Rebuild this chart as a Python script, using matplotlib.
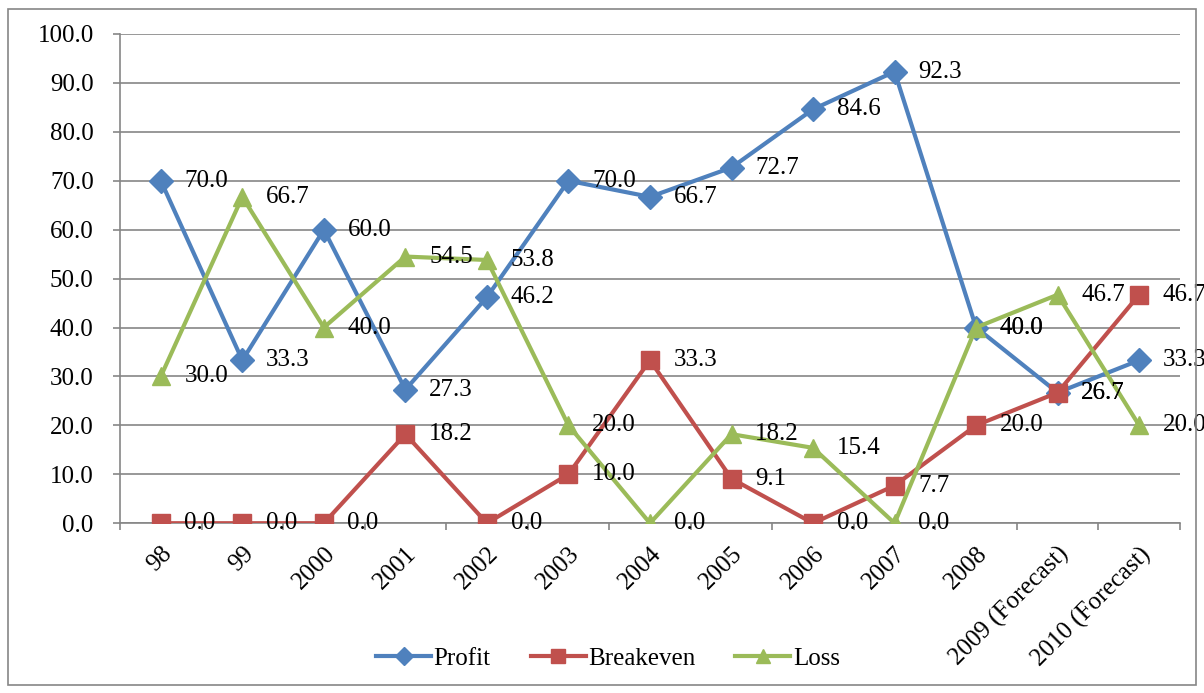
import matplotlib.pyplot as plt
from matplotlib.patches import Rectangle
import numpy as np

plt.rcParams['font.family'] = ['Liberation Serif', 'DejaVu Serif']

years = ['98', '99', '2000', '2001', '2002', '2003', '2004', '2005', '2006',
         '2007', '2008', '2009 (Forecast)', '2010 (Forecast)']
profit = [70.0, 33.3, 60.0, 27.3, 46.2, 70.0, 66.7, 72.7, 84.6, 92.3, 40.0, 26.7, 33.3]
breakeven = [0.0, 0.0, 0.0, 18.2, 0.0, 10.0, 33.3, 9.1, 0.0, 7.7, 20.0, 26.7, 46.7]
loss = [30.0, 66.7, 40.0, 54.5, 53.8, 20.0, 0.0, 18.2, 15.4, 0.0, 40.0, 46.7, 20.0]

fs = 18
grid_col = '#868686'

fig = plt.figure(figsize=(12.04, 6.93), dpi=100)
ax = fig.add_axes([0.0997, 0.245, 0.8803, 0.706])

x = np.arange(len(years))
series = [
    ('Profit', profit, '#4F81BD', 'D', 12),
    ('Breakeven', breakeven, '#C0504D', 's', 13),
    ('Loss', loss, '#9BBB59', '^', 13),
]
for name, vals, col, mk, ms in series:
    ax.plot(x, vals, color=col, lw=3, marker=mk, markersize=ms, label=name, zorder=3)
for name, vals, col, mk, ms in series:
    for xi, v in zip(x, vals):
        ax.annotate(f'{v:.1f}', (xi, v), xytext=(17, 0), textcoords='offset points',
                    ha='left', va='center', fontsize=fs, color='black', zorder=4)

ax.set_xlim(-0.5, len(years) - 0.5)
ax.set_ylim(0, 100)
ax.set_yticks(np.arange(0, 101, 10))
ax.set_yticklabels([f'{v:.1f}' for v in np.arange(0, 101, 10)], fontsize=fs)
ax.yaxis.grid(True, color=grid_col, lw=1.2)
ax.set_axisbelow(True)

ax.set_xticks(x)
ax.set_xticklabels(years, rotation=45, ha='right', rotation_mode='anchor', fontsize=fs)
ax.set_xticks(np.arange(-0.5, len(years), 1), minor=True)
ax.tick_params(axis='x', which='major', length=0, pad=14)
ax.tick_params(axis='x', which='minor', length=5, color=grid_col, width=1.2)
ax.tick_params(axis='y', length=5, color=grid_col, width=1.2, pad=14)

for s in ['top', 'right']:
    ax.spines[s].set_visible(False)
for s in ['left', 'bottom']:
    ax.spines[s].set_color(grid_col)
    ax.spines[s].set_linewidth(1.2)

fig.legend(loc='center', bbox_to_anchor=(0.505, 0.05), ncol=3, frameon=False,
           fontsize=fs, handlelength=2.2, columnspacing=1.6, handletextpad=0.1,
           markerscale=0.8)

fig.patches.append(Rectangle((0.007, 0.012), 0.986, 0.975, transform=fig.transFigure,
                             fill=False, edgecolor=grid_col, lw=1.2))

fig.savefig('out.png', dpi=100)
